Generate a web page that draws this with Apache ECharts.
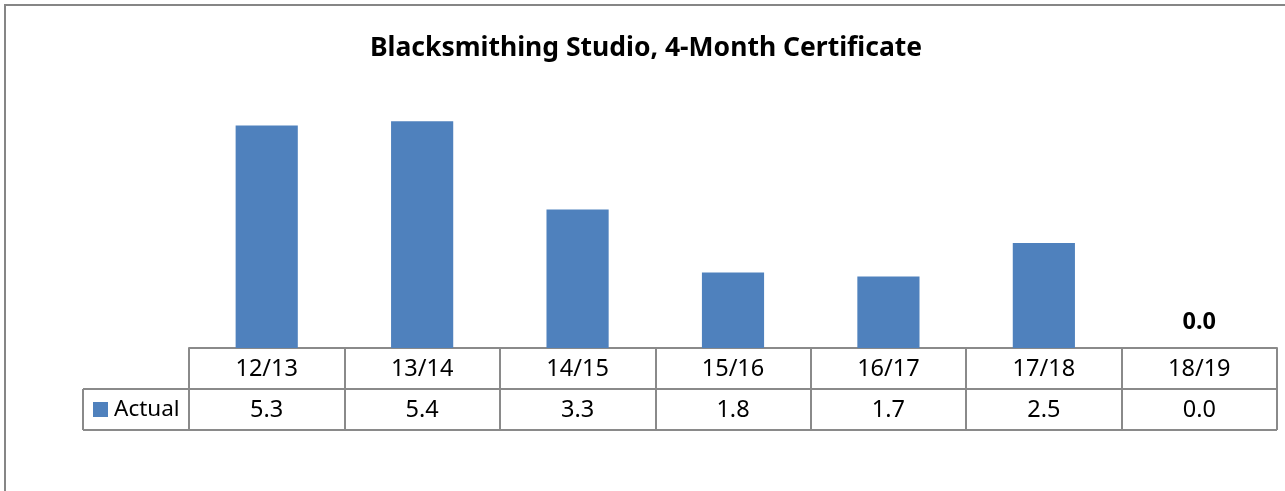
<!DOCTYPE html>
<html>
<head>
<meta charset="utf-8">
<script src="https://cdn.jsdelivr.net/npm/echarts@6/dist/echarts.min.js"></script>
<style>
  html, body { margin: 0; padding: 0; background: #fff; }
  #chart { width: 1285px; height: 491px; }
</style>
</head>
<body>
<div id="chart"></div>
<script>
// Academic years shown along the bottom of the chart / header row of the table
const years = ['12/13', '13/14', '14/15', '15/16', '16/17', '17/18', '18/19'];
// Annual "Actual" values, one per year
const actual = [5.3, 5.4, 3.3, 1.8, 1.7, 2.5, 0.0];
const seriesName = 'Actual';
const titleText = 'Blacksmithing Studio, 4-Month Certificate';

const FONT = 'Noto Sans';
const TABLE_FONT_SIZE = 23.5;
const GRID_LEFT = 189, GRID_RIGHT_X = 1277, AXIS_Y = 348, ROW_H = 41;
const LEGEND_LEFT = 83;
const lineColor = '#8a8a8a';

const chart = echarts.init(document.getElementById('chart'), null, { renderer: 'canvas' });

chart.setOption({
  backgroundColor: '#fff',
  animation: false,
  textStyle: { fontFamily: FONT },
  title: {
    text: titleText,
    left: 641,
    textAlign: 'center',
    top: 30,
    textStyle: { fontFamily: FONT, fontSize: 26.5, fontWeight: 'bold', color: '#000' }
  },
  legend: {
    data: [seriesName],
    left: 93,
    top: 398,
    padding: 0,
    icon: 'rect',
    itemWidth: 15,
    itemHeight: 15,
    itemGap: 6,
    textStyle: { fontFamily: FONT, fontSize: 22.5, color: '#000', padding: [0, 0, 0, 1] }
  },
  grid: {
    left: GRID_LEFT,
    right: 1285 - GRID_RIGHT_X,
    top: AXIS_Y - 6 * 42,
    bottom: 491 - AXIS_Y,
    containLabel: false
  },
  xAxis: {
    type: 'category',
    data: years,
    boundaryGap: true,
    axisLine: { show: true, lineStyle: { color: lineColor, width: 2 } },
    axisTick: { show: true, length: ROW_H * 2, lineStyle: { color: lineColor, width: 2 } },
    axisLabel: {
      margin: 1,
      interval: 0,
      formatter: (v, i) => `{c|${v}}\n{v|${actual[i].toFixed(1)}}`,
      rich: {
        c: { fontFamily: FONT, fontSize: TABLE_FONT_SIZE, lineHeight: ROW_H, color: '#000', align: 'center' },
        v: { fontFamily: FONT, fontSize: TABLE_FONT_SIZE, lineHeight: ROW_H, color: '#000', align: 'center' }
      }
    }
  },
  yAxis: {
    type: 'value',
    min: 0,
    max: 6,
    interval: 1,
    show: false,
    splitLine: { show: false }
  },
  series: [{
    name: seriesName,
    type: 'bar',
    barWidth: '40%',
    itemStyle: { color: '#4F81BD' },
    data: actual.map((v, i) => i === actual.length - 1
      ? {
          value: v,
          label: {
            show: true,
            position: 'top',
            distance: 14,
            formatter: p => p.value.toFixed(1),
            fontFamily: FONT,
            fontSize: TABLE_FONT_SIZE,
            fontWeight: 'bold',
            color: '#000'
          }
        }
      : v)
  }],
  graphic: [
    // outer chart frame (left and top edges visible)
    { type: 'rect', silent: true, shape: { x: 5, y: 5, width: 1300, height: 520 },
      style: { fill: null, stroke: '#868686', lineWidth: 2 } },
    // data-table rules
    { type: 'line', silent: true, shape: { x1: LEGEND_LEFT, y1: AXIS_Y + ROW_H, x2: GRID_RIGHT_X, y2: AXIS_Y + ROW_H },
      style: { stroke: lineColor, lineWidth: 2 } },
    { type: 'line', silent: true, shape: { x1: LEGEND_LEFT, y1: AXIS_Y + 2 * ROW_H, x2: GRID_RIGHT_X, y2: AXIS_Y + 2 * ROW_H },
      style: { stroke: lineColor, lineWidth: 2 } },
    { type: 'line', silent: true, shape: { x1: LEGEND_LEFT, y1: AXIS_Y + ROW_H, x2: LEGEND_LEFT, y2: AXIS_Y + 2 * ROW_H },
      style: { stroke: lineColor, lineWidth: 2 } }
  ]
});
</script>
</body>
</html>
